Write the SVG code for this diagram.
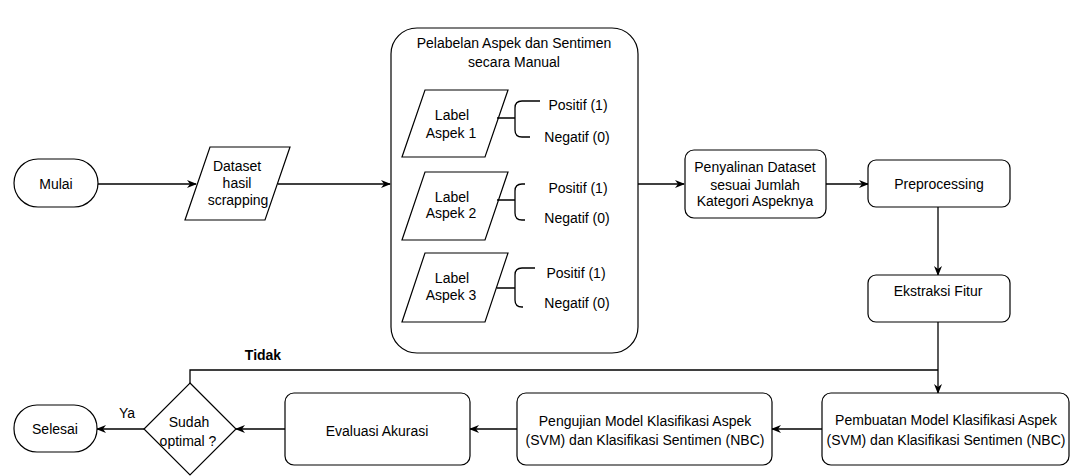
<svg xmlns="http://www.w3.org/2000/svg" width="1070" height="476" viewBox="0 0 1070 476">
<style>
.n{fill:#fff;stroke:#000;stroke-width:1.2}
.c{fill:none;stroke:#000;stroke-width:1.3}
.t{font-family:"Liberation Sans",Arial,sans-serif;font-size:14px;fill:#000;text-anchor:middle}
.b{font-weight:bold}
</style>
<defs>
<marker id="ah" markerWidth="10" markerHeight="8" refX="9" refY="4" orient="auto" markerUnits="userSpaceOnUse">
<path d="M0,0 L10,4 L0,8 L3,4 Z" fill="#000"/>
</marker>
</defs>
<rect width="1070" height="476" fill="#fff"/>
<g id="connectors">
<path class="c" d="M98,184 H196" marker-end="url(#ah)"/>
<path class="c" d="M278,184 H390" marker-end="url(#ah)"/>
<path class="c" d="M638,184 H684" marker-end="url(#ah)"/>
<path class="c" d="M826,184 H868" marker-end="url(#ah)"/>
<path class="c" d="M938,207 V275" marker-end="url(#ah)"/>
<path class="c" d="M938,322 V393" marker-end="url(#ah)"/>
<path class="c" d="M190,383 V370 H938"/>
<path class="c" d="M822,429 H772" marker-end="url(#ah)"/>
<path class="c" d="M517,429 H470" marker-end="url(#ah)"/>
<path class="c" d="M285,429 H236" marker-end="url(#ah)"/>
<path class="c" d="M144,429 H97" marker-end="url(#ah)"/>
<text class="t b" x="263" y="360">Tidak</text>
<text class="t" x="127" y="418">Ya</text>
</g>
<g id="mulai">
<rect class="n" x="14" y="159" width="84" height="48" rx="24"/>
<text class="t" x="56" y="189">Mulai</text>
</g>
<g id="dataset">
<polygon class="n" points="210,147 290,147 265,220 185,220"/>
<text class="t" x="237" y="171">Dataset</text>
<text class="t" x="237" y="188">hasil</text>
<text class="t" x="238" y="205">scrapping</text>
</g>
<g id="pelabelan">
<rect class="n" x="391" y="28" width="247" height="325" rx="26"/>
<text class="t" x="514" y="48">Pelabelan Aspek dan Sentimen</text>
<text class="t" x="514" y="67">secara Manual</text>
</g>
<g id="aspek1">
<polygon class="n" points="425,90 508,90 485,157 402,157"/>
<text class="t" x="452" y="120">Label</text>
<text class="t" x="451" y="138">Aspek 1</text>
<path class="c" d="M497,118 H515 M540,101 H522 Q515,101 515,108 V130 Q515,137 522,137 H530"/>
<text class="t" x="578" y="110">Positif (1)</text>
<text class="t" x="577" y="142">Negatif (0)</text>
</g>
<g id="aspek2">
<polygon class="n" points="425,172 508,172 485,240 402,240"/>
<text class="t" x="452" y="202">Label</text>
<text class="t" x="451" y="218">Aspek 2</text>
<path class="c" d="M497,200 H515 M525,184 H522 Q515,184 515,191 V213 Q515,220 522,220 H525"/>
<text class="t" x="578" y="193">Positif (1)</text>
<text class="t" x="577" y="223">Negatif (0)</text>
</g>
<g id="aspek3">
<polygon class="n" points="425,253 508,253 485,322 402,322"/>
<text class="t" x="452" y="283">Label</text>
<text class="t" x="451" y="300">Aspek 3</text>
<path class="c" d="M497,288 H515 M535,268 H522 Q515,268 515,275 V300 Q515,307 522,307 H523"/>
<text class="t" x="576" y="278">Positif (1)</text>
<text class="t" x="577" y="308">Negatif (0)</text>
</g>
<g id="penyalinan">
<rect class="n" x="685" y="150" width="141" height="68" rx="9"/>
<text class="t" x="755" y="172">Penyalinan Dataset</text>
<text class="t" x="755" y="190">sesuai Jumlah</text>
<text class="t" x="755" y="206">Kategori Aspeknya</text>
</g>
<g id="preprocessing">
<rect class="n" x="868" y="160" width="142" height="47" rx="8"/>
<text class="t" x="939" y="189">Preprocessing</text>
</g>
<g id="ekstraksi">
<rect class="n" x="868" y="275" width="142" height="47" rx="8"/>
<text class="t" x="938" y="296">Ekstraksi Fitur</text>
</g>
<g id="pembuatan">
<rect class="n" x="822" y="393" width="247" height="72" rx="9"/>
<text class="t" x="946" y="425">Pembuatan Model Klasifikasi Aspek</text>
<text class="t" x="946" y="445">(SVM) dan Klasifikasi Sentimen (NBC)</text>
</g>
<g id="pengujian">
<rect class="n" x="517" y="393" width="255" height="72" rx="9"/>
<text class="t" x="645" y="426">Pengujian Model Klasifikasi Aspek</text>
<text class="t" x="645" y="445">(SVM) dan Klasifikasi Sentimen (NBC)</text>
</g>
<g id="evaluasi">
<rect class="n" x="285" y="393" width="185" height="72" rx="9"/>
<text class="t" x="377" y="436">Evaluasi Akurasi</text>
</g>
<g id="sudah">
<polygon class="n" points="190,383 236,429 190,475 144,429"/>
<text class="t" x="189" y="427">Sudah</text>
<text class="t" x="188" y="446">optimal ?</text>
</g>
<g id="selesai">
<rect class="n" x="14" y="405" width="83" height="47" rx="23"/>
<text class="t" x="55" y="434">Selesai</text>
</g>
</svg>
